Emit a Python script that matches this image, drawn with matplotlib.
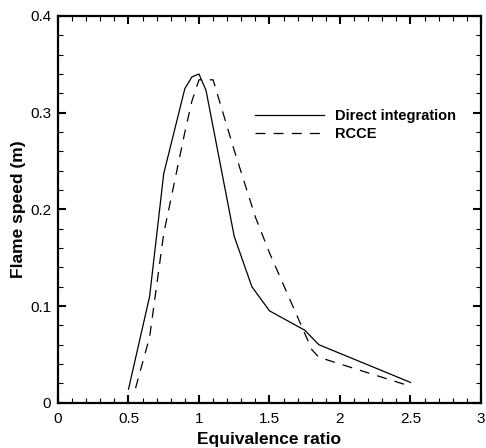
import matplotlib
matplotlib.use('Agg')
import matplotlib.pyplot as plt
from matplotlib.ticker import MultipleLocator

plt.rcParams['font.family'] = ['Liberation Sans', 'DejaVu Sans']

# --- Data ---
phi_direct = [0.5, 0.65, 0.75, 0.9, 0.95, 1.0, 1.05, 1.25, 1.375, 1.5, 1.75, 1.85, 2.5]
speed_direct = [0.014, 0.110, 0.237, 0.325, 0.337, 0.340, 0.323, 0.172, 0.120, 0.095, 0.075, 0.060, 0.021]

phi_rcce = [0.55, 0.65, 0.75, 0.9, 0.95, 1.0, 1.1, 1.25, 1.4, 1.5, 1.8, 1.85, 2.5]
speed_rcce = [0.015, 0.068, 0.175, 0.280, 0.312, 0.334, 0.334, 0.261, 0.192, 0.155, 0.055, 0.047, 0.017]

labels = ['Direct integration', 'RCCE']
x_ticks = [0, 0.5, 1, 1.5, 2, 2.5, 3]
x_ticklabels = ['0', '0.5', '1', '1.5', '2', '2.5', '3']
y_ticks = [0, 0.1, 0.2, 0.3, 0.4]
y_ticklabels = ['0', '0.1', '0.2', '0.3', '0.4']

fig = plt.figure(figsize=(4.86, 4.48), dpi=100)
ax = fig.add_axes([0.1193, 0.1011, 0.8704, 0.8632])

ax.plot(phi_direct, speed_direct, color='black', lw=0.9, label=labels[0])
ax.plot(phi_rcce, speed_rcce, color='black', lw=0.9, linestyle=(0, (8, 6.5)), label=labels[1])

ax.set_xlim(0, 3)
ax.set_ylim(0, 0.4)
ax.set_xticks(x_ticks)
ax.set_xticklabels(x_ticklabels)
ax.set_yticks(y_ticks)
ax.set_yticklabels(y_ticklabels)
ax.xaxis.set_minor_locator(MultipleLocator(0.1))
ax.yaxis.set_minor_locator(MultipleLocator(0.02))

ax.tick_params(which='both', direction='in', top=True, right=True, labelsize=11)
ax.tick_params(axis='x', pad=7)
ax.tick_params(axis='y', pad=5)
ax.tick_params(which='major', length=6, width=1.5)
ax.tick_params(which='minor', length=3.5, width=0.8)
for sp in ax.spines.values():
    sp.set_linewidth(1.6)

ax.set_xlabel('Equivalence ratio', fontsize=12.5, fontweight='bold', labelpad=4)
ax.set_ylabel('Flame speed (m)', fontsize=12.5, fontweight='bold', labelpad=3)

leg = ax.legend(loc='center left', bbox_to_anchor=(0.466, 0.718), frameon=False,
                handlelength=4.7, handletextpad=0.8, labelspacing=0.3,
                borderpad=0, borderaxespad=0,
                prop={'weight': 'bold', 'size': 10.5})

plt.savefig('out.png', dpi=100)
